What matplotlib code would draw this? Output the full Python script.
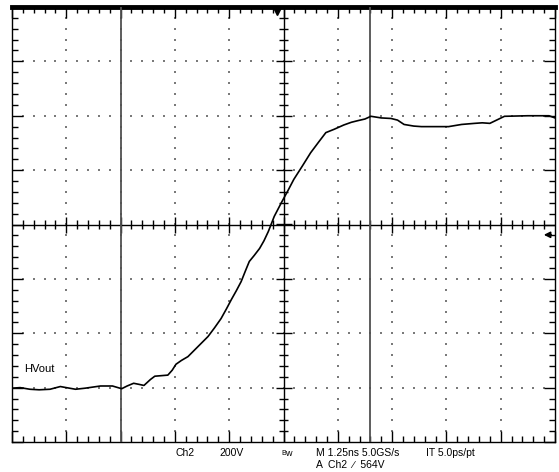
import numpy as np
import matplotlib
matplotlib.use("Agg")
import matplotlib.pyplot as plt
from matplotlib.collections import LineCollection

# Розмір картинки (пікселі)
W, H = 559, 472

# Сітка осцилографа: 10 поділок по горизонталі, 8 по вертикалі
n_div_x = 10
n_div_y = 8

# Осцилограма HVout (у поділках екрана)
t_div = [0.00, 0.15, 0.33, 0.50, 0.70, 0.89, 1.00, 1.17, 1.35, 1.63, 1.85, 2.02,
         2.12, 2.24, 2.34, 2.43, 2.55, 2.63, 2.75, 2.87, 2.95, 3.02, 3.12, 3.24,
         3.42, 3.61, 3.73, 3.85, 3.95, 4.04, 4.13, 4.22, 4.30, 4.37, 4.46, 4.56,
         4.64, 4.72, 4.83, 4.96, 5.08, 5.19, 5.35, 5.50, 5.65, 5.78, 5.93, 6.11,
         6.25, 6.37, 6.50, 6.61, 6.80, 6.98, 7.10, 7.22, 7.40, 7.54, 7.80, 8.04,
         8.28, 8.52, 8.66, 8.80, 9.07, 9.50, 9.89, 10.0]
v_div = [-3.01, -3.00, -3.03, -3.04, -3.03, -2.98, -3.00, -3.03, -3.01, -2.97,
         -2.97, -3.02, -2.97, -2.92, -2.94, -2.96, -2.85, -2.79, -2.78, -2.77,
         -2.68, -2.57, -2.50, -2.43, -2.25, -2.06, -1.90, -1.73, -1.55, -1.38,
         -1.22, -1.05, -0.85, -0.68, -0.57, -0.44, -0.30, -0.13, 0.15, 0.40,
         0.62, 0.83, 1.08, 1.32, 1.52, 1.69, 1.75, 1.83, 1.88, 1.91, 1.94, 1.99,
         1.96, 1.95, 1.92, 1.84, 1.81, 1.80, 1.80, 1.80, 1.84, 1.86, 1.87, 1.86,
         1.99, 2.00, 2.00, 1.96]

# Курсори, тригер, рівень
cursor_x = [2.0, 6.6]
trig_pos_x = 4.88
trig_level_y = -0.19
label_y = -2.75

# Підписи внизу
footer_line1 = [("Ch2", 175), ("200V", 219), ("M 1.25ns 5.0GS/s", 316), ("IT 5.0ps/pt", 426)]
footer_line2 = [("A  Ch2  \u2215  564V", 316)]

fig = plt.figure(figsize=(W / 100, H / 100), dpi=100)
x0, x1, y0, y1 = 12, 555, 7, 442
ax = fig.add_axes([x0 / W, 1 - y1 / H, (x1 - x0) / W, (y1 - y0) / H])
ax.set_xlim(0, n_div_x)
ax.set_ylim(-n_div_y / 2, n_div_y / 2)

px_x = n_div_x / (x1 - x0)   # одна точка екрана в поділках
px_y = n_div_y / (y1 - y0)

# Рамка
for s in ["left", "right", "bottom"]:
    ax.spines[s].set_linewidth(1.0)
ax.spines["top"].set_linewidth(3.5)

# Засічки на рамці
ax.set_xticks(np.arange(0, n_div_x + 0.01, 1))
ax.set_xticks(np.arange(0, n_div_x + 0.01, 0.2), minor=True)
ax.set_yticks(np.arange(-4, 4.01, 1))
ax.set_yticks(np.arange(-4, 4.01, 0.2), minor=True)
ax.tick_params(which="both", direction="in", top=True, right=True,
               labelbottom=False, labelleft=False, color="black", width=1.0)
ax.tick_params(which="major", length=8)
ax.tick_params(which="minor", length=4)

# Пунктирна сітка
dot_x, dot_y = [], []
minor_x = np.arange(0.2, n_div_x, 0.2)
minor_y = np.arange(-3.8, 3.81, 0.2)
for gx in range(1, n_div_x):
    if gx == 5:
        continue
    dot_x += [gx] * len(minor_y)
    dot_y += list(minor_y)
for gy in range(-3, 4):
    if gy == 0:
        continue
    dot_x += list(minor_x)
    dot_y += [gy] * len(minor_x)
ax.scatter(dot_x, dot_y, s=0.9, color="#7a7a7a", marker="s", linewidths=0, zorder=1)

# Центральний хрест із засічками
ax.axhline(0, color="black", lw=1.0, zorder=2)
ax.axvline(n_div_x / 2, color="black", lw=1.0, zorder=2)
segs = []
for mx in np.arange(0.2, n_div_x, 0.2):
    h = 8 if abs(mx - round(mx)) < 1e-6 else 4.5
    segs.append([(mx, -h * px_y), (mx, h * px_y)])
for my in np.arange(-3.8, 3.81, 0.2):
    h = 8 if abs(my - round(my)) < 1e-6 else 4.5
    segs.append([(n_div_x / 2 - h * px_x, my), (n_div_x / 2 + h * px_x, my)])
ax.add_collection(LineCollection(segs, colors="black", linewidths=1.0, zorder=2))

# Курсори
for cx in cursor_x:
    ax.axvline(cx, color="#505050", lw=1.3, zorder=3)

# Сигнал
ax.plot(t_div, v_div, color="black", lw=1.2, zorder=4)
ax.text(0.22, label_y, "HVout", fontsize=8, family="Liberation Sans",
        va="bottom", ha="left", zorder=5)

# Маркер позиції тригера
ax.plot([trig_pos_x], [n_div_y / 2 - 4 * px_y], marker="v", color="black",
        markersize=6, clip_on=False, zorder=6)
# Рівень тригера
ax.annotate("", xy=(n_div_x - 14 * px_x, trig_level_y),
            xytext=(n_div_x - 1 * px_x, trig_level_y),
            arrowprops=dict(arrowstyle="-|>", color="black", lw=1.2,
                            mutation_scale=9), zorder=6)

# Підписи
for txt, px in footer_line1:
    fig.text(px / W, 1 - 456 / H, txt, fontsize=7.5, family="Liberation Sans",
             ha="left", va="baseline")
for txt, px in footer_line2:
    fig.text(px / W, 1 - 468 / H, txt, fontsize=7.5, family="Liberation Sans",
             ha="left", va="baseline")
fig.text(281 / W, 1 - 455 / H, "B", fontsize=5, family="Liberation Sans",
         ha="left", va="baseline")
fig.text(285 / W, 1 - 456 / H, "w", fontsize=6.5, family="Liberation Sans",
         ha="left", va="baseline")

fig.savefig("out.png", dpi=100)
